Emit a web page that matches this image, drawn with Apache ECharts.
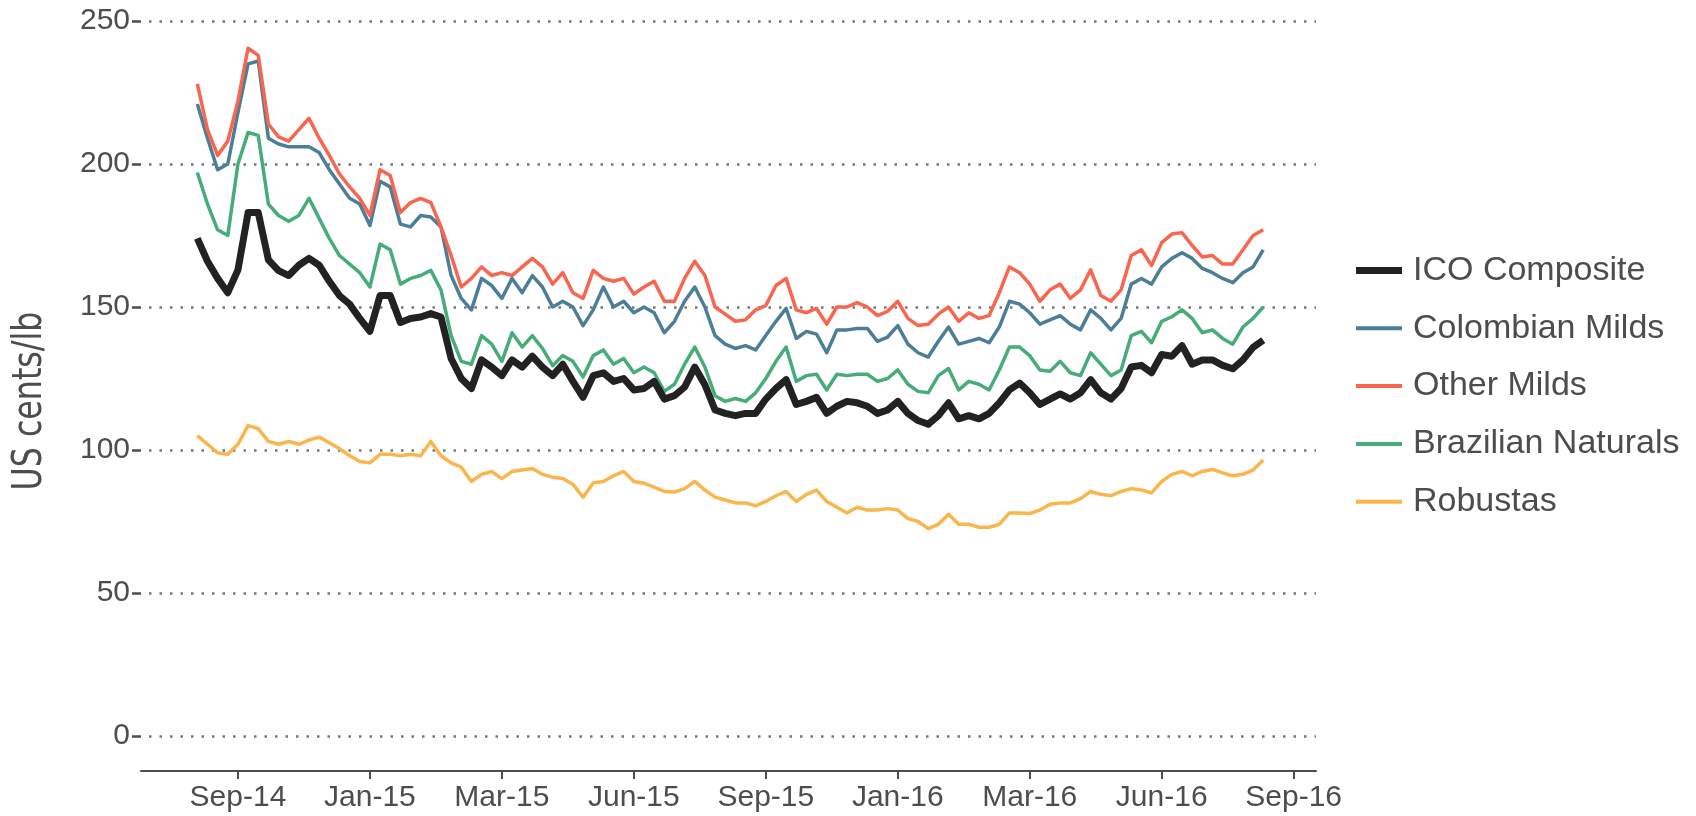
<!DOCTYPE html>
<html>
<head>
<meta charset="utf-8">
<title>ICO indicator prices</title>
<script src="https://cdn.jsdelivr.net/npm/echarts@6/dist/echarts.min.js"></script>
<style>
    html, body { margin: 0; padding: 0; background: #fff; }
    #main { width: 1696px; height: 816px; }
</style>
</head>
<body>
<div id="main"></div>
<script>
// weekly readings, week 0 = the Sep-14 tick
var startWeek = -4;
var tickWeeks = [0, 13, 26, 39, 52, 65, 78, 91, 104];
var tickLabels = ['Sep-14', 'Jan-15', 'Mar-15', 'Jun-15', 'Sep-15', 'Jan-16', 'Mar-16', 'Jun-16', 'Sep-16'];
var seriesNames = ['ICO Composite', 'Colombian Milds', 'Other Milds', 'Brazilian Naturals', 'Robustas'];
var seriesColors = ['#222222', '#4c7e98', '#f9654e', '#47ad78', '#fbb54d'];

var icoComposite = [
    174, 166, 160, 155, 163, 183, 183, 166.5, 162.7, 161, 164.6, 167, 164.6, 159, 154, 151, 146, 141.5, 154, 154, 144.6, 146, 146.5, 147.7, 146.5, 132, 125,
    121.5, 131.5, 129, 126, 131.5, 129, 132.8, 129, 126, 130, 124, 118.4, 126, 127, 124, 125, 121, 121.5, 124, 117.8, 119, 122, 129, 122.8, 114, 112.8, 112,
    112.8, 112.8, 117.8, 121.5, 124.6, 115.9, 117, 118.4, 112.8, 115.3, 117, 116.5, 115.3, 112.8, 114, 117, 112.8, 110.3, 109, 112, 116.5, 110.9, 112, 110.9, 112.8, 116.5,
    121, 123.4, 120, 115.9, 117.8, 119.6, 117.8, 120, 124.6, 120, 117.8, 121.5, 129, 129.6, 127, 133.4, 132.8, 136.5, 130, 131.5, 131.5, 129.6, 128.4, 131.5, 135.9, 138.4
];
var colombianMilds = [
    221, 209, 198, 200, 218, 235, 236, 209, 207, 206, 206, 206, 204, 198, 193, 188, 186, 178.5, 194, 192, 179, 178, 182, 181.5, 178, 161, 153,
    149, 160, 157.5, 153, 160, 155, 161, 157, 150, 152, 150, 143.5, 149, 157, 150, 152, 148, 150, 148, 141, 145, 152, 157, 150, 140, 137, 135.5,
    136.5, 135, 140, 145, 149.5, 139, 141.5, 140.5, 134, 142, 142, 142.5, 142.5, 138, 139.5, 143.5, 137, 134, 132.5, 138, 143, 137, 138, 139, 137.5, 143,
    152, 151, 148, 144, 145.5, 147, 144, 142, 149, 146, 142, 146, 158, 160, 158, 164, 167, 169, 167, 163.5, 162, 160, 158.5, 162, 164, 170
];
var otherMilds = [
    228, 212, 203, 208, 222, 240.5, 238, 214, 209.5, 208, 212, 216, 209, 203, 196.5, 192, 188, 182, 198, 196, 183, 186.5, 188, 186.5, 178, 168, 157,
    160, 164, 161, 162, 161, 164, 167, 164, 158, 162, 155, 153, 162.8, 160, 159, 160, 154.5, 157, 159, 152, 152, 160, 166, 161, 150, 147.5, 145,
    145.5, 149, 150.5, 157.5, 160, 149, 148, 149.5, 144, 150, 150, 151.5, 150, 147, 148.5, 152, 146, 143.5, 144, 147.5, 150, 145, 148, 146, 147, 155,
    164, 162, 158, 152, 156, 158, 153, 156, 163, 154, 152, 156, 168, 170, 164.5, 172.5, 175.5, 176, 171.5, 167.5, 168, 165, 165, 170, 175, 177
];
var brazilianNaturals = [
    197, 186, 177, 175, 200, 211, 210, 186, 182, 180, 182, 188, 181, 174, 168, 165, 162, 157, 172, 170, 158, 160, 161, 162.8, 156, 140, 131,
    130, 140, 137, 131, 141, 136, 140, 135.5, 129.5, 133, 131, 125.5, 133, 135, 130, 132, 127, 129, 127, 120.5, 123, 130, 136, 129, 119, 117, 118,
    117, 120, 125, 131, 136, 124, 126, 126.5, 121, 126.5, 126, 126.5, 126.5, 124, 125, 128, 123, 120.5, 120, 126, 128.5, 121, 124, 123, 121, 128,
    136, 136, 133, 128, 127.5, 131, 127, 126, 134, 130, 126, 128, 140, 141.5, 137.5, 145, 146.6, 149, 146, 141, 142, 139, 137, 143, 146, 150
];
var robustas = [
    105, 102, 99, 98.5, 102, 108.5, 107.5, 103, 102, 103, 102, 103.5, 104.5, 102.5, 100.5, 98, 96, 95.5, 98.5, 98.5, 98, 98.5, 98, 103, 98, 95.5, 94,
    89, 91.5, 92.5, 90, 92.5, 93, 93.5, 91.5, 90.5, 90, 88, 83.5, 88.5, 89, 91, 92.5, 89, 88.4, 87, 85.5, 85.3, 86.5, 89, 86, 83.5, 82.5, 81.5,
    81.5, 80.5, 82, 84, 85.5, 82, 84.5, 86, 82, 80, 78, 80, 79, 79, 79.5, 79, 76, 75, 72.5, 74, 77.5, 74, 74, 73, 73, 74,
    78, 78, 77.8, 79, 81, 81.5, 81.5, 83, 85.5, 84.5, 84, 85.5, 86.5, 86, 85, 89, 91.5, 92.5, 91, 92.5, 93.2, 92, 91, 91.5, 93, 96.5
];

var allValues = [icoComposite, colombianMilds, otherMilds, brazilianNaturals, robustas];
var lineWidths = [7, 3.5, 3.5, 3.5, 3.5];
var fontFamily = "'Liberation Sans', Arial, sans-serif";

// legend icons: thick bar for the composite, thin bars for the groups
var iconThick = 'path://M0,0 H46 V7 H0 Z M52,7';
var iconThin = 'path://M0,0 M0,1.5 H46 V5.5 H0 Z M52,7';

function toPoints(values) {
    return values.map(function (v, i) {
        return [startWeek + i, v];
    });
}

var myChart = echarts.init(document.getElementById('main'));

var series = seriesNames.map(function (name, i) {
    return {
        name: name,
        type: 'line',
        symbol: 'none',
        showSymbol: false,
        color: seriesColors[i],
        z: i === 0 ? 5 : 2,
        lineStyle: {width: lineWidths[i], color: seriesColors[i], join: 'round'},
        data: toPoints(allValues[i])
    };
});

var option = {
    animation: false,
    backgroundColor: '#fff',
    grid: {
        left: 141,
        right: 380,
        top: 21,
        bottom: 80
    },
    legend: {
        orient: 'vertical',
        left: 1351,
        top: 245.5,
        itemWidth: 52,
        itemHeight: 7,
        itemGap: 17.8,
        textStyle: {fontSize: 34, color: '#4d4d4d', lineHeight: 40, fontFamily: fontFamily},
        data: seriesNames.map(function (name, i) {
            return {
                name: name,
                icon: i === 0 ? iconThick : iconThin,
                itemStyle: {color: seriesColors[i], borderWidth: 0}
            };
        })
    },
    xAxis: {
        type: 'value',
        min: -9.55,
        max: 106.2,
        offset: 35,
        axisLine: {show: true, onZero: false, lineStyle: {color: '#4d4d4d', width: 2}},
        axisTick: {show: true, length: 8, customValues: tickWeeks, lineStyle: {color: '#4d4d4d', width: 2}},
        axisLabel: {
            customValues: tickWeeks,
            formatter: function (v) {
                return tickLabels[tickWeeks.indexOf(v)];
            },
            fontSize: 30,
            color: '#4d4d4d',
            fontFamily: fontFamily,
            margin: 12
        },
        splitLine: {show: false}
    },
    yAxis: {
        type: 'value',
        min: 0,
        max: 250,
        interval: 50,
        // keep the axis at the left edge, not at week 0
        axisLine: {show: false, onZero: false},
        axisTick: {show: true, length: 9, lineStyle: {color: '#4d4d4d', width: 2.5}},
        axisLabel: {fontSize: 30, color: '#4d4d4d', fontFamily: fontFamily, margin: 11},
        splitLine: {show: true, lineStyle: {type: [2.5, 8], dashOffset: 2.5, width: 2.5, color: '#777'}}
    },
    graphic: [{
        type: 'text',
        x: 31,
        y: 401,
        rotation: Math.PI / 2,
        scaleX: 0.88,
        style: {
            text: 'US cents/lb',
            font: "40px 'Liberation Sans Narrow', 'DejaVu Sans Condensed', sans-serif",
            fill: '#4d4d4d',
            align: 'center',
            verticalAlign: 'middle'
        }
    }],
    series: series
};

myChart.setOption(option);
</script>
</body>
</html>
